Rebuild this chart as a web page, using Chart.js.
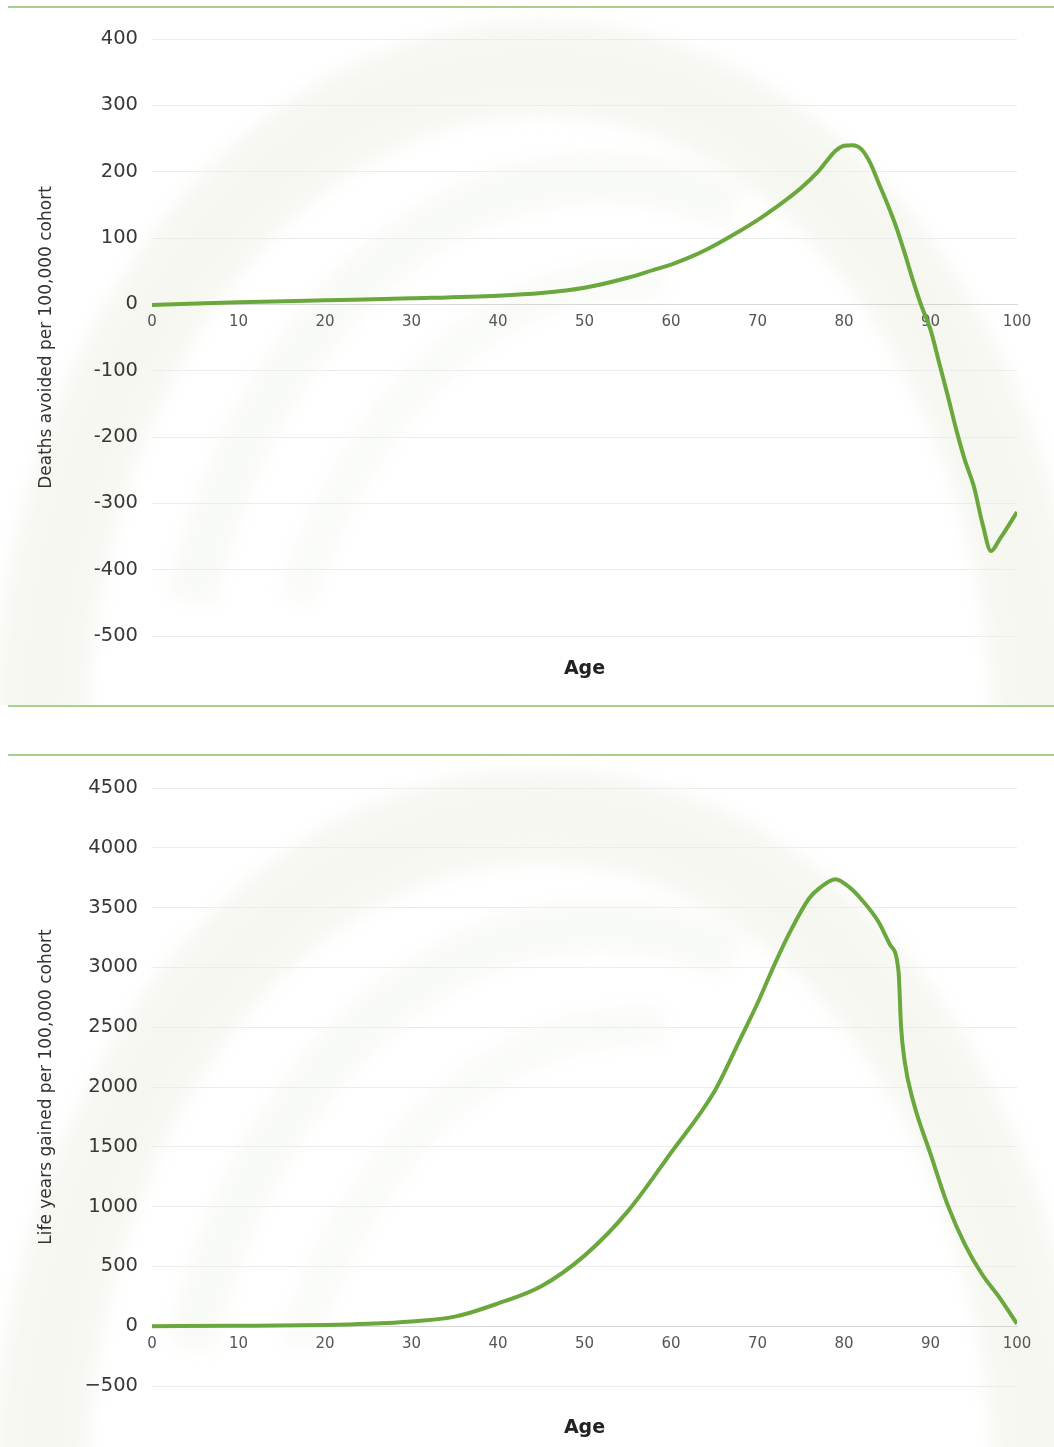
<!DOCTYPE html>
<html>
<head>
<meta charset="utf-8">
<script src="https://cdn.jsdelivr.net/npm/chart.js@4.4.1/dist/chart.umd.min.js"></script>
<style>
    html, body { margin: 0; padding: 0; background: #fff; }
    body { width: 1054px; height: 1447px; overflow: hidden; position: relative; }
    .panel { position: absolute; left: 8px; width: 1046px; height: 697px;
             border-top: 2px solid #a9d18e; border-bottom: 2px solid #a9d18e; }
    #panelTop { top: 6px; }
    #panelBottom { top: 754px; }
    .panel canvas { position: absolute; left: -8px; top: 0; }
</style>
</head>
<body>
<div class="panel" id="panelTop"><canvas id="deathsChart" width="1054" height="697"></canvas></div>
<div class="panel" id="panelBottom"><canvas id="lifeChart" width="1054" height="697"></canvas></div>

<script>
// Deaths avoided per 100,000 cohort, by age
const deathAges = [0, 10, 20, 30, 40, 45, 50, 55, 58, 60, 62, 64, 66, 68, 70, 72, 75, 77, 78, 79, 80, 81, 82, 83, 84, 85,
                   86, 87, 88, 89, 90, 91, 92, 93, 94, 95, 96, 97, 98, 99, 100];
const deathsAvoided = [-1, 3, 6, 9, 13, 17, 25, 40, 52, 60, 70, 82, 96, 111, 127, 145, 175, 200, 216, 231, 239, 240, 234, 214, 183, 152,
                       118, 78, 35, -4, -38, -88, -138, -190, -236, -274, -330, -372, -354, -334, -313];

// Life years gained per 100,000 cohort, by age
const lifeAges = [0, 10, 20, 25, 30, 35, 40, 45, 50, 55, 60, 65, 68, 70, 72, 74, 76, 77.2, 79, 80.7,
                  82, 84, 85.3, 86.3, 86.6, 87, 88, 90, 92, 94, 96, 98, 100];
const lifeYearsGained = [0, 3, 10, 20, 40, 80, 190, 334, 590, 960, 1450, 1960, 2400, 2700, 3030, 3330, 3580, 3665, 3738, 3665,
                         3570, 3380, 3191, 2968, 2500, 2220, 1880, 1440, 1010, 680, 430, 237, 20];

const FONT = "'DejaVu Sans', Verdana, sans-serif";
const GREEN = '#6aa73c';

// faint, soft swoosh watermark behind each panel
const watermark = {
    id: 'watermark',
    beforeDraw(chart) {
        const { ctx, width, height } = chart;
        ctx.save();
        ctx.fillStyle = '#ffffff';
        ctx.fillRect(0, 0, width, height);
        ctx.filter = 'blur(10px)';
        const bands = [
            { cx: 540, cy: 740, rx: 500, ry: 680, w: 90, a0: 1.0, a1: 2.0, c: 'rgba(232,238,222,0.45)' },
            { cx: 600, cy: 780, rx: 430, ry: 610, w: 45, a0: 1.1, a1: 1.6, c: 'rgba(232,238,222,0.3)' },
            { cx: 640, cy: 830, rx: 380, ry: 560, w: 35, a0: 1.14, a1: 1.52, c: 'rgba(232,238,222,0.25)' }
        ];
        bands.forEach(b => {
            ctx.beginPath();
            ctx.ellipse(b.cx, b.cy, b.rx, b.ry, 0, b.a0 * Math.PI, b.a1 * Math.PI);
            ctx.lineWidth = b.w;
            ctx.strokeStyle = b.c;
            ctx.stroke();
        });
        ctx.restore();
    }
};

const makeChart = (id, ages, values, cfg) => {
    const ctx = document.getElementById(id).getContext('2d');
    return new Chart(ctx, {
        type: 'line',
        data: {
            datasets: [{
                data: ages.map((a, i) => ({ x: a, y: values[i] })),
                borderColor: GREEN,
                borderWidth: 4,
                pointRadius: 0,
                fill: false,
                cubicInterpolationMode: 'monotone'
            }]
        },
        options: {
            responsive: false,
            animation: false,
            layout: { padding: { left: 0, right: 37, top: cfg.top, bottom: 0 } },
            plugins: { legend: { display: false }, tooltip: { enabled: false } },
            scales: {
                x: {
                    type: 'linear',
                    position: { y: 0 },
                    min: 0,
                    max: 100,
                    grid: { display: false, drawTicks: false },
                    border: { display: true, color: '#d6d6d6', width: 1 },
                    ticks: { stepSize: 10, color: '#555', padding: 9, font: { family: FONT, size: 15 } }
                },
                x2: {
                    type: 'linear',
                    position: 'bottom',
                    min: 0,
                    max: 100,
                    grid: { display: false, drawTicks: false },
                    border: { display: false },
                    ticks: { display: false },
                    title: {
                        display: true,
                        text: 'Age',
                        color: '#222',
                        font: { family: FONT, size: 19, weight: 'bold' },
                        padding: { top: 0, bottom: cfg.agePad }
                    },
                    afterFit: scale => { scale.height = cfg.bottomH; }
                },
                y: {
                    min: cfg.min,
                    max: cfg.max,
                    grid: { color: '#ececec', drawTicks: false },
                    border: { display: false },
                    ticks: {
                        stepSize: cfg.step,
                        color: '#383838',
                        padding: 14,
                        font: { family: FONT, size: 19.5 },
                        callback: cfg.fmt
                    },
                    title: {
                        display: true,
                        text: cfg.title,
                        color: '#333',
                        font: { family: FONT, size: 17 },
                        padding: { top: 36, bottom: 0 }
                    },
                    afterFit: scale => { scale.width = 152; }
                }
            }
        },
        plugins: [watermark]
    });
};

makeChart('deathsChart', deathAges, deathsAvoided, {
    min: -500, max: 400, step: 100,
    title: 'Deaths avoided per 100,000 cohort',
    top: 31, bottomH: 69, agePad: 25,
    fmt: v => String(v)
});

makeChart('lifeChart', lifeAges, lifeYearsGained, {
    min: -500, max: 4500, step: 500,
    title: 'Life years gained per 100,000 cohort',
    top: 32, bottomH: 67, agePad: 14,
    fmt: v => (v < 0 ? '\u2212' + Math.abs(v) : String(v))
});
</script>
</body>
</html>
